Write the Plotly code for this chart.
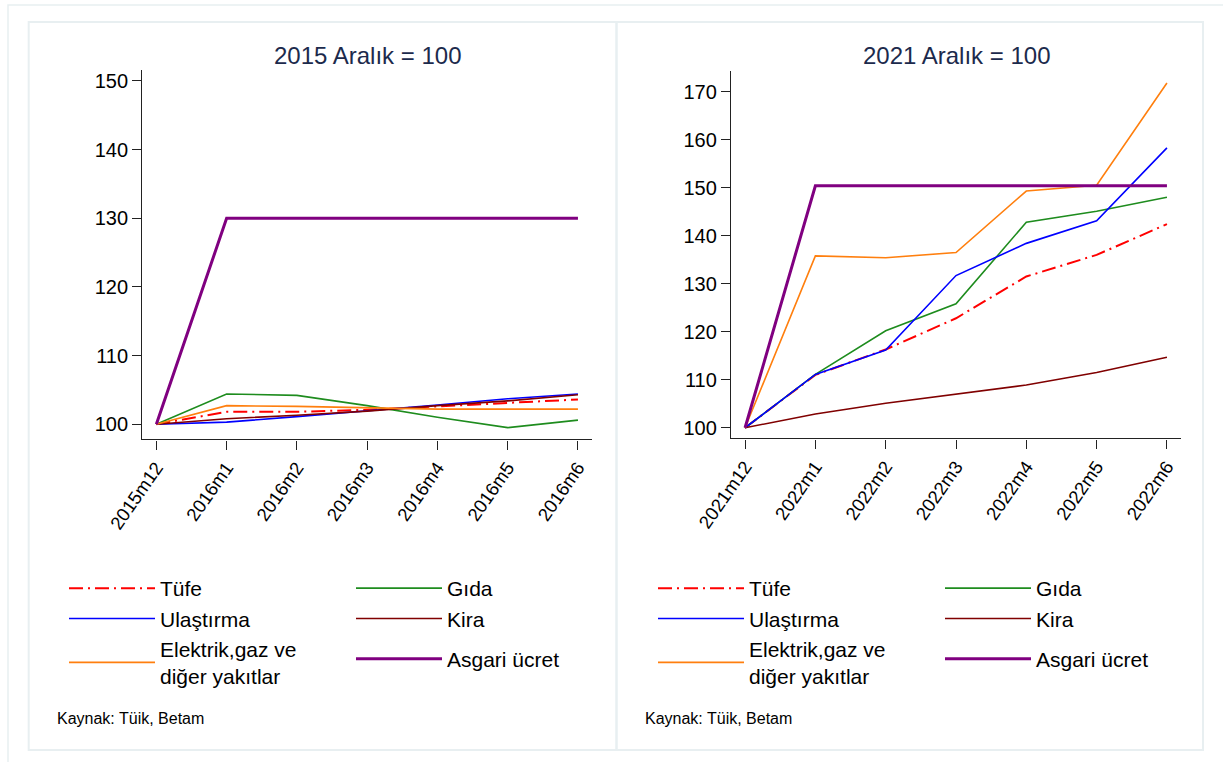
import plotly.graph_objects as go

# ---------------- data ----------------
months_a = ["2015m12", "2016m1", "2016m2", "2016m3", "2016m4", "2016m5", "2016m6"]
months_b = ["2021m12", "2022m1", "2022m2", "2022m3", "2022m4", "2022m5", "2022m6"]

tufe_a = [100, 101.8, 101.8, 102.1, 102.6, 103.1, 103.6]
gida_a = [100, 104.4, 104.2, 102.7, 101.0, 99.5, 100.6]
ulas_a = [100, 100.3, 101.1, 101.9, 102.8, 103.7, 104.4]
kira_a = [100, 100.8, 101.3, 101.9, 102.7, 103.4, 104.3]
elek_a = [100, 102.7, 102.6, 102.4, 102.2, 102.2, 102.2]
asgari_a = [100, 130, 130, 130, 130, 130, 130]

tufe_b = [100, 111.0, 116.3, 122.8, 131.5, 136.0, 142.4]
gida_b = [100, 111.1, 120.2, 125.8, 142.8, 145.1, 148.0]
ulas_b = [100, 111.1, 116.2, 131.7, 138.4, 143.1, 158.3]
kira_b = [100, 102.85, 105.1, 106.95, 108.9, 111.5, 114.7]
elek_b = [100, 135.8, 135.4, 136.5, 149.3, 150.5, 171.8]
asgari_b = [100, 150.4, 150.4, 150.4, 150.4, 150.4, 150.4]

series_names = ["Tüfe", "Gıda", "Ulaştırma", "Kira", "Elektrik,gaz ve<br>diğer yakıtlar", "Asgari ücret"]
titles = ["2015 Aralık = 100", "2021 Aralık = 100"]
yticks_a = [100, 110, 120, 130, 140, 150]
yticks_b = [100, 110, 120, 130, 140, 150, 160, 170]
source_text = "Kaynak: Tüik, Betam"

# ---------------- styling ----------------
W, H = 1223, 762
FONT = "Liberation Sans, Arial, Helvetica, sans-serif"
colors = ["#ff0000", "#1e8c1e", "#0000ff", "#800000", "#ff7f0e", "#800080"]
widths = [2, 1.6, 1.6, 1.6, 1.6, 3]
dashes = ["14px,5px,2px,5px", "solid", "solid", "solid", "solid", "solid"]
# legend column: 0 -> first column, 1 -> second column
col_of = [0, 1, 0, 1, 0, 1]

def px_x(p):
    return p / W

def px_y(p):
    return 1 - p / H

fig = go.Figure()

panels = [
    (months_a, [tufe_a, gida_a, ulas_a, kira_a, elek_a, asgari_a], "x", "y", ["legend", "legend2"]),
    (months_b, [tufe_b, gida_b, ulas_b, kira_b, elek_b, asgari_b], "x2", "y2", ["legend3", "legend4"]),
]
for pi, (months, vals, xa, ya, legs) in enumerate(panels):
    for i, v in enumerate(vals):
        fig.add_trace(go.Scatter(
            x=months, y=v, mode="lines", name=series_names[i],
            line=dict(color=colors[i], width=widths[i], dash=dashes[i]),
            xaxis=xa, yaxis=ya, legend=legs[col_of[i]],
            legendgroup=f"p{pi}g{'a' if i == 5 else 'b'}" if col_of[i] == 1 else None,
        ))

axis_common = dict(
    showline=True, linecolor="#222222", linewidth=1.4, ticks="outside", ticklen=9,
    tickwidth=1.3, tickcolor="#222222", showgrid=False, zeroline=False,
)
yfont = dict(family=FONT, size=20, color="#000000")
xfont = dict(family=FONT, size=18.5, color="#000000")

fig.update_layout(
    width=W, height=H, margin=dict(l=0, r=0, t=0, b=0, autoexpand=False),
    paper_bgcolor="white", plot_bgcolor="white",
    font=dict(family=FONT, color="#000000"),
    xaxis=dict(domain=[px_x(142.3), px_x(592)], anchor="y", type="category",
               range=[-0.2, 6.2], tickangle=-55, tickfont=xfont, **axis_common),
    yaxis=dict(domain=[px_y(439.3), px_y(70)], anchor="x", range=[97.8, 151.6],
               tickvals=yticks_a, tickfont=yfont, **axis_common),
    xaxis2=dict(domain=[px_x(731), px_x(1181)], anchor="y2", type="category",
                range=[-0.2, 6.2], tickangle=-55, tickfont=xfont, **axis_common),
    yaxis2=dict(domain=[px_y(438.3), px_y(71)], anchor="x2", range=[97.8, 174.3],
                tickvals=yticks_b, tickfont=yfont, **axis_common),
)

leg_common = dict(orientation="v", xanchor="left", yanchor="top", itemwidth=86,
                  bgcolor="rgba(0,0,0,0)", borderwidth=0, tracegroupgap=10,
                  font=dict(family=FONT, size=21, color="#000000"), itemclick=False,
                  itemdoubleclick=False)
legend_left_px = [64, 351, 653, 940]
legend_names = ["legend", "legend2", "legend3", "legend4"]
for name, lx in zip(legend_names, legend_left_px):
    fig.update_layout({name: dict(x=px_x(lx), y=px_y(568), **leg_common)})

# titles and source notes
title_centers = [367, 956]
for t, cx in zip(titles, title_centers):
    fig.add_annotation(text=t, x=px_x(cx), y=px_y(55), xref="paper", yref="paper",
                       xanchor="center", yanchor="middle", showarrow=False,
                       font=dict(family=FONT, size=24, color="#1c2a4c"))
for sx in [55, 643]:
    fig.add_annotation(text=source_text, x=px_x(sx), y=px_y(718), xref="paper", yref="paper",
                       xanchor="left", yanchor="middle", showarrow=False,
                       font=dict(family=FONT, size=16, color="#000000"))

# panel frames
frame_col = "#e8eff1"
fig.add_shape(type="rect", xref="paper", yref="paper", x0=px_x(8), x1=px_x(1240),
              y0=px_y(775), y1=px_y(5), line=dict(color=frame_col, width=1.5), layer="below")
for x0, x1 in [(28.7, 616.5), (616.5, 1203)]:
    fig.add_shape(type="rect", xref="paper", yref="paper", x0=px_x(x0), x1=px_x(x1),
                  y0=px_y(750), y1=px_y(22), line=dict(color=frame_col, width=2), layer="below")

fig.write_html("out.html", config={"displayModeBar": False},
               post_script="document.body.style.margin='0px';")
